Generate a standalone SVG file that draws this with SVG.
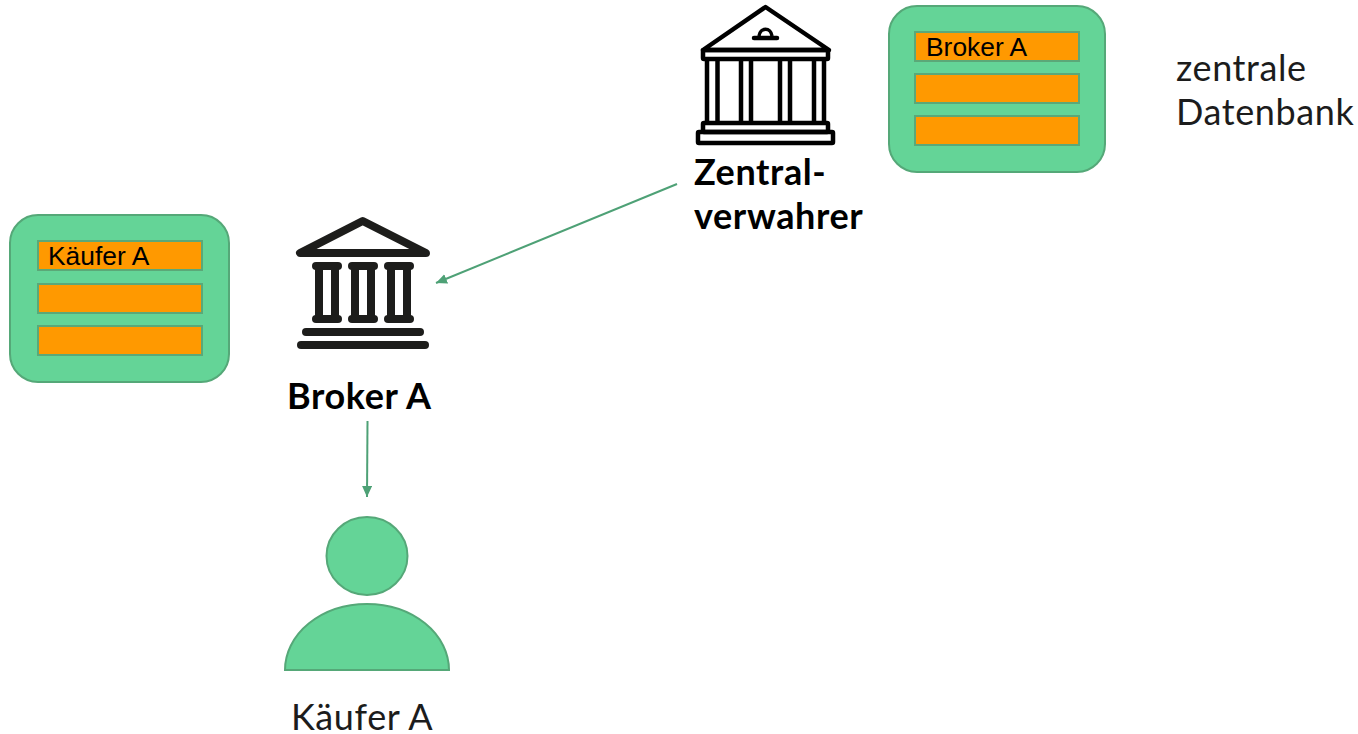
<svg xmlns="http://www.w3.org/2000/svg" width="1358" height="734" viewBox="0 0 1358 734">
<style>
.g{fill:#64d497;stroke:#55a878;stroke-width:2}
.r{fill:#ff9900;stroke:#5ba878;stroke-width:2}
.a{font-family:"Liberation Sans",Arial,sans-serif;font-size:26.4px;fill:#000}
.t{font-family:Lato,"Open Sans",sans-serif;font-size:36px;letter-spacing:.6px;fill:#1c1c1c}
.b{font-weight:700;fill:#000}
.c{stroke:#4ea176;stroke-width:2;fill:none;marker-end:url(#ah)}
.k{fill:none;stroke:#000;stroke-width:4.5;stroke-linejoin:round}
.d{fill:#1d1d1b}
</style>
<defs>
<marker id="ah" markerUnits="userSpaceOnUse" markerWidth="12" markerHeight="12" refX="11" refY="5" orient="auto"><path d="M0 0L11 5L0 10Z" fill="#4ea176"/></marker>
</defs>
<rect width="1358" height="734" fill="#fff"/>
<g id="connectors">
<path class="c" d="M677 184L436 283"/>
<path class="c" d="M367.500 421L367 497"/>
</g>
<g id="db-kaeufer">
<rect class="g" x="10" y="215" width="219" height="167" rx="28"/>
<rect class="r" x="38" y="241" width="164" height="29"/>
<rect class="r" x="38" y="284" width="164" height="29"/>
<rect class="r" x="38" y="326" width="164" height="29"/>
<text class="a" x="48" y="265">Käufer A</text>
</g>
<g id="db-zentral">
<rect class="g" x="889" y="6" width="216" height="166" rx="28"/>
<rect class="r" x="915" y="32" width="164" height="29"/>
<rect class="r" x="915" y="74" width="164" height="29"/>
<rect class="r" x="915" y="116" width="164" height="29"/>
<text class="a" x="926" y="56">Broker A</text>
</g>
<g id="zentralverwahrer">
<path class="k" d="M765.500 7L703 50H829Z"/>
<rect class="k" x="703" y="50" width="125" height="9" rx="1"/>
<path class="k" d="M707 60V122M717.500 60V122M741 60V122M751 60V122M780 60V122M790 60V122M814 60V122M824 60V122"/>
<rect class="k" x="703" y="123" width="125" height="9" rx="1"/>
<rect class="k" x="698" y="132" width="135" height="11" rx="1"/>
<path d="M754 38H777" stroke="#000" stroke-width="4.500" stroke-linecap="round" fill="none"/>
<path d="M759 36C760 27 771 27 772 36" stroke="#000" stroke-width="3.500" fill="none"/>
<text class="t b" x="694" y="185">Zentral-</text>
<text class="t b" x="694" y="229">verwahrer</text>
</g>
<g id="broker">
<path d="M362.700 221L300 253H426Z" fill="#fff" stroke="#1d1d1b" stroke-width="8" stroke-linejoin="round"/>
<g class="d">
<rect x="312" y="262" width="30" height="8" rx="4"/><rect x="312" y="315" width="30" height="8" rx="4"/>
<path fill-rule="evenodd" d="M315 266H339V319H315ZM323 270V315H331V270Z"/>
<rect x="348" y="262" width="30" height="8" rx="4"/><rect x="348" y="315" width="30" height="8" rx="4"/>
<path fill-rule="evenodd" d="M351 266H375V319H351ZM359 270V315H367V270Z"/>
<rect x="384" y="262" width="30" height="8" rx="4"/><rect x="384" y="315" width="30" height="8" rx="4"/>
<path fill-rule="evenodd" d="M387 266H411V319H387ZM395 270V315H403V270Z"/>
<rect x="302" y="328" width="122" height="8" rx="4"/>
<rect x="297" y="341" width="132" height="8" rx="4"/>
</g>
<text class="t b" x="287" y="409">Broker A</text>
</g>
<g id="kaeufer">
<ellipse class="g" cx="367" cy="556" rx="40.500" ry="39"/>
<path class="g" d="M285 670A82 66 0 0 1 449 670Z"/>
<text class="t" x="291" y="730">Käufer A</text>
</g>
<g id="label-datenbank">
<text class="t" x="1176" y="81">zentrale</text>
<text class="t" x="1176" y="125">Datenbank</text>
</g>
</svg>
